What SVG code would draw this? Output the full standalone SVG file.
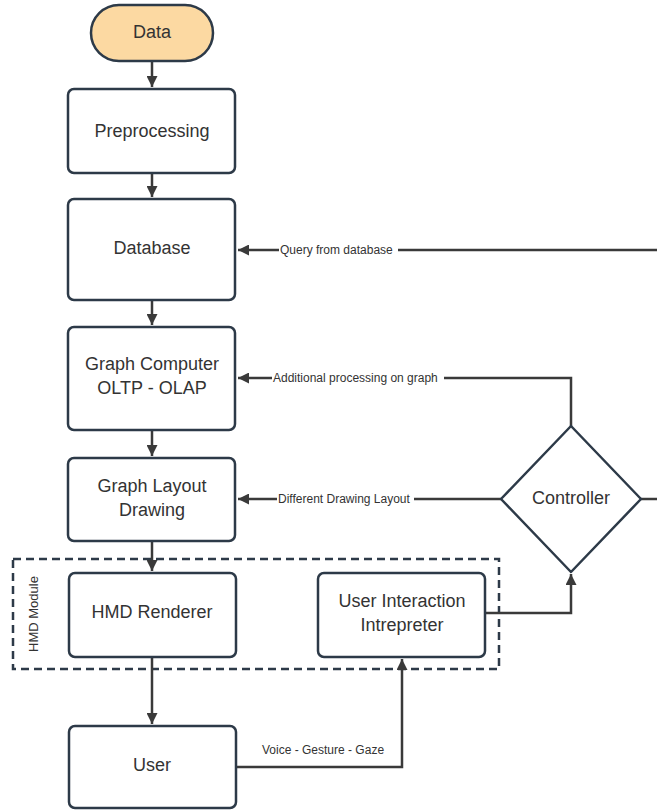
<svg xmlns="http://www.w3.org/2000/svg" width="657" height="810" viewBox="0 0 657 810">
<style>
.node{fill:#fff;stroke:#2d3a48;stroke-width:2.5}
.lbl{font-family:"Liberation Sans",Arial,sans-serif;font-size:18px;fill:#333;text-anchor:middle;dominant-baseline:central}
.edge{fill:none;stroke:#3a3a3a;stroke-width:2.5}
.el{font-family:"Liberation Sans",Arial,sans-serif;font-size:12px;fill:#333;dominant-baseline:central}
.bg{fill:#fff}
</style>
<defs>
<marker id="ah" viewBox="0 0 10 10" refX="10" refY="5" markerWidth="4.4" markerHeight="4.4" orient="auto" markerUnits="strokeWidth">
<path d="M0,0 L10,5 L0,10 Z" fill="#3a3a3a"/>
</marker>
</defs>
<g id="hmd-module">
<rect x="13" y="559" width="486" height="110" fill="none" stroke="#2d3a48" stroke-width="2.5" stroke-dasharray="8,5"/>
<text class="el" style="font-size:13px" text-anchor="middle" transform="translate(33,614) rotate(-90)">HMD Module</text>
</g>
<g id="connectors">
<path class="edge" d="M152,61 L152,87" marker-end="url(#ah)"/>
<path class="edge" d="M152,173 L152,197" marker-end="url(#ah)"/>
<path class="edge" d="M152,300 L152,325" marker-end="url(#ah)"/>
<path class="edge" d="M152,430 L152,456" marker-end="url(#ah)"/>
<path class="edge" d="M152,541 L152,571" marker-end="url(#ah)"/>
<path class="edge" d="M152,657 L152,724" marker-end="url(#ah)"/>
<path class="edge" d="M236,767 L402,767 L402,659" marker-end="url(#ah)"/>
<path class="edge" d="M485,613 L571,613 L571,574" marker-end="url(#ah)"/>
<path class="edge" d="M657,250 L238,250" marker-end="url(#ah)"/>
<path class="edge" d="M571,426 L571,378 L238,378" marker-end="url(#ah)"/>
<path class="edge" d="M501,499 L238,499" marker-end="url(#ah)"/>
<path class="edge" d="M640,499 L657,499"/>
<rect class="bg" x="279" y="242" width="119" height="16"/>
<text class="el" x="280" y="250">Query from database</text>
<rect class="bg" x="272" y="370" width="172" height="16"/>
<text class="el" x="273" y="378">Additional processing on graph</text>
<rect class="bg" x="277" y="491" width="137" height="16"/>
<text class="el" x="278" y="499">Different Drawing Layout</text>
<text class="el" x="262" y="750">Voice - Gesture - Gaze</text>
</g>
<g id="data">
<rect x="91" y="5" width="122" height="56" rx="28" fill="#fcd9a2" stroke="#2d3a48" stroke-width="2.5"/>
<text class="lbl" x="152" y="32">Data</text>
</g>
<g id="preprocessing">
<rect class="node" x="68" y="89" width="167" height="84" rx="6"/>
<text class="lbl" x="152" y="131">Preprocessing</text>
</g>
<g id="database">
<rect class="node" x="68" y="199" width="167" height="101" rx="6"/>
<text class="lbl" x="152" y="248">Database</text>
</g>
<g id="graph-computer">
<rect class="node" x="68" y="327" width="167" height="103" rx="6"/>
<text class="lbl" x="152" y="364">Graph Computer</text>
<text class="lbl" x="152" y="388">OLTP - OLAP</text>
</g>
<g id="graph-layout">
<rect class="node" x="68" y="458" width="167" height="83" rx="6"/>
<text class="lbl" x="152" y="486">Graph Layout</text>
<text class="lbl" x="152" y="510">Drawing</text>
</g>
<g id="hmd-renderer">
<rect class="node" x="69" y="573" width="167" height="84" rx="6"/>
<text class="lbl" x="152" y="612">HMD Renderer</text>
</g>
<g id="user-interaction">
<rect class="node" x="318" y="573" width="167" height="84" rx="6"/>
<text class="lbl" x="402" y="601">User Interaction</text>
<text class="lbl" x="402" y="625">Intrepreter</text>
</g>
<g id="user">
<rect class="node" x="69" y="726" width="167" height="82" rx="6"/>
<text class="lbl" x="152" y="765">User</text>
</g>
<g id="controller">
<path class="node" d="M571,426 L641,499 L571,572 L501,499 Z" stroke-linejoin="round"/>
<text class="lbl" x="571" y="498">Controller</text>
</g>
</svg>
